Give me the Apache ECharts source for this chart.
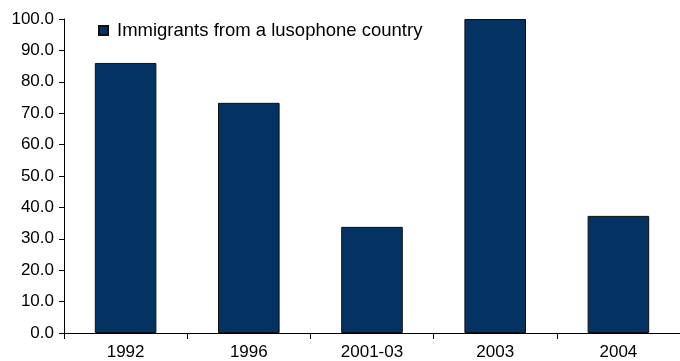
<!DOCTYPE html>
<html>
<head>
<meta charset="utf-8">
<script src="https://cdn.jsdelivr.net/npm/echarts@6/dist/echarts.min.js"></script>
<style>
  html, body { margin: 0; padding: 0; background: #fff; }
  #chart { width: 680px; height: 361px; }
</style>
</head>
<body>
<div id="chart"></div>
<script>
const categories = ["1992", "1996", "2001-03", "2003", "2004"];
const seriesName = "Immigrants from a lusophone country";
const values = [86.0, 73.3, 33.8, 100.0, 37.3];

const font = "Liberation Sans, Arial, sans-serif";
const chart = echarts.init(document.getElementById("chart"));

chart.setOption({
  animation: false,
  grid: { left: 64, right: -7, top: 19, bottom: 28, containLabel: false },
  legend: {
    data: [seriesName],
    left: 98, top: 21, padding: 0,
    icon: "rect", itemWidth: 9, itemHeight: 9,
    textStyle: { fontFamily: font, fontSize: 18.5, color: "#000", padding: [0, 0, 0, 4] }
  },
  xAxis: {
    type: "category",
    data: categories,
    axisLine: { lineStyle: { color: "#000", width: 1 } },
    axisTick: { show: true, length: 6, lineStyle: { color: "#000" } },
    axisLabel: { fontFamily: font, fontSize: 17, color: "#000", margin: 11 }
  },
  yAxis: {
    type: "value",
    min: 0, max: 100, interval: 10,
    axisLine: { show: true, lineStyle: { color: "#000", width: 1 } },
    axisTick: { show: true, length: 5, lineStyle: { color: "#000" } },
    splitLine: { show: false },
    axisLabel: {
      fontFamily: font, fontSize: 17, color: "#000", margin: 10,
      formatter: v => v.toFixed(1)
    }
  },
  series: [{
    name: seriesName,
    type: "bar",
    data: values,
    barWidth: "50%",
    itemStyle: { color: "#033263", borderColor: "#111", borderWidth: 1 }
  }]
});
</script>
</body>
</html>
